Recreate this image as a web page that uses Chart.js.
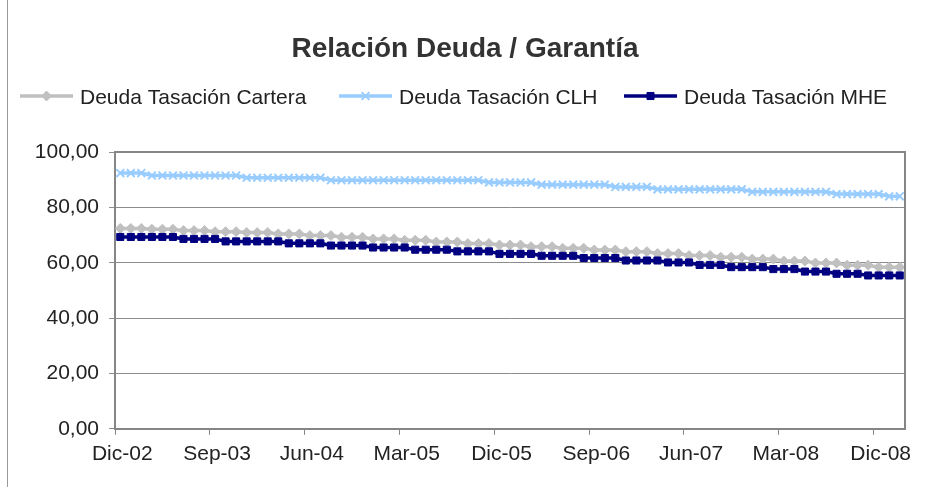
<!DOCTYPE html>
<html>
<head>
<meta charset="utf-8">
<script src="https://cdn.jsdelivr.net/npm/chart.js@4.4.0/dist/chart.umd.min.js"></script>
<style>
  html, body { margin: 0; padding: 0; background: #fff; }
</style>
</head>
<body>
<canvas id="myChart" width="931" height="487"></canvas>
<script>
const titleText = 'Relación Deuda / Garantía';
const monthNames = ['Ene', 'Feb', 'Mar', 'Abr', 'May', 'Jun', 'Jul', 'Ago', 'Sep', 'Oct', 'Nov', 'Dic'];

// Dic-02 .. Feb-09, one category per month
const categories = [];
for (let i = 0; i < 75; i++) {
   const m = (11 + i) % 12;
   const yy = 2 + Math.floor((11 + i) / 12);
   categories.push(monthNames[m] + '-' + String(yy).padStart(2, '0'));
}
const labelEvery = 9;

const seriesNames = ['Deuda Tasación Cartera', 'Deuda Tasación CLH', 'Deuda Tasación MHE'];

const cartera = [
   72.4,
   72.4, 72.4, 72.1, 72.1, 72.1, 71.6, 71.6, 71.6, 71.2, 71.2, 71.2, 70.9,
   70.9, 70.9, 70.4, 70.4, 70.4, 69.8, 69.8, 69.8, 69.2, 69.2, 69.2, 68.6,
   68.6, 68.6, 68.1, 68.1, 68.1, 67.5, 67.5, 67.5, 66.9, 66.9, 66.9, 66.4,
   66.4, 66.4, 65.8, 65.8, 65.8, 65.2, 65.2, 65.2, 64.6, 64.6, 64.6, 64.0,
   64.0, 64.0, 63.3, 63.3, 63.3, 62.6, 62.6, 62.6, 62.0, 62.0, 62.0, 61.3,
   61.3, 61.3, 60.6, 60.6, 60.6, 59.9, 59.9, 59.9, 59.1, 59.1, 59.1, 58.4,
   58.4, 58.4
];

const clh = [
   92.4,
   92.4, 92.4, 91.5, 91.5, 91.5, 91.5, 91.5, 91.5, 91.5, 91.5, 91.5, 90.7,
   90.7, 90.7, 90.7, 90.7, 90.7, 90.7, 90.7, 89.8, 89.8, 89.8, 89.8, 89.8,
   89.8, 89.8, 89.8, 89.8, 89.8, 89.8, 89.8, 89.8, 89.8, 89.8, 89.0, 89.0,
   89.0, 89.0, 89.0, 88.2, 88.2, 88.2, 88.2, 88.2, 88.2, 88.2, 87.4, 87.4,
   87.4, 87.4, 86.5, 86.5, 86.5, 86.5, 86.5, 86.5, 86.5, 86.5, 86.5, 85.6,
   85.6, 85.6, 85.6, 85.6, 85.6, 85.6, 85.6, 84.8, 84.8, 84.8, 84.8, 84.8,
   84.0, 84.0
];

const mhe = [
   69.3,
   69.3, 69.3, 69.3, 69.3, 69.3, 68.6, 68.6, 68.6, 68.6, 67.7, 67.7, 67.7,
   67.7, 67.7, 67.7, 67.0, 67.0, 67.0, 67.0, 66.2, 66.2, 66.2, 66.2, 65.5,
   65.5, 65.5, 65.5, 64.7, 64.7, 64.7, 64.7, 64.1, 64.1, 64.1, 64.1, 63.2,
   63.2, 63.2, 63.2, 62.5, 62.5, 62.5, 62.5, 61.7, 61.7, 61.7, 61.7, 60.8,
   60.8, 60.8, 60.8, 60.1, 60.1, 60.1, 59.2, 59.2, 59.2, 58.4, 58.4, 58.4,
   58.4, 57.7, 57.7, 57.7, 56.8, 56.8, 56.8, 56.0, 56.0, 56.0, 55.4, 55.4,
   55.4, 55.4
];

const yTicks = [0, 20, 40, 60, 80, 100];

const fontFamily = '"Liberation Sans", Arial, sans-serif';
const textColor = '#222';
const axisGray = '#868686';

Chart.defaults.font.family = fontFamily;

const styles = [
   { color: '#C0C0C0', pointStyle: 'rectRot', radius: 5, fill: true },
   { color: '#99CCFF', pointStyle: 'crossRot', radius: 5.5, fill: false },
   { color: '#000080', pointStyle: 'rect', radius: 5, fill: true }
];

function makeDataset(i, values) {
   const s = styles[i];
   return {
      label: seriesNames[i],
      data: values,
      borderColor: s.color,
      backgroundColor: s.color,
      borderWidth: 3.5,
      pointStyle: s.pointStyle,
      pointRadius: s.radius,
      pointBorderWidth: s.fill ? 1 : 2,
      pointBorderColor: s.color,
      pointBackgroundColor: s.fill ? s.color : 'rgba(0,0,0,0)',
      tension: 0,
      order: 2 - i
   };
}

// title, legend and plot frame drawn like the Excel original
const excelFrame = {
   id: 'excelFrame',
   afterDraw(chart) {
      const ctx = chart.ctx;
      const a = chart.chartArea;
      ctx.save();

      ctx.strokeStyle = axisGray;
      ctx.lineWidth = 2;
      ctx.beginPath();
      ctx.moveTo(a.left, a.top);
      ctx.lineTo(a.right, a.top);
      ctx.lineTo(a.right, a.bottom);
      ctx.stroke();

      ctx.strokeStyle = '#9a9a9a';
      ctx.lineWidth = 1;
      ctx.beginPath();
      ctx.moveTo(7.5, 0);
      ctx.lineTo(7.5, chart.height);
      ctx.stroke();

      ctx.fillStyle = '#333';
      ctx.font = 'bold 28px ' + fontFamily;
      ctx.textAlign = 'center';
      ctx.textBaseline = 'alphabetic';
      ctx.fillText(titleText, 465, 57);

      const legendX = [20, 339, 624];
      const legendY = 96;
      ctx.font = '21px ' + fontFamily;
      ctx.textAlign = 'left';
      for (let i = 0; i < seriesNames.length; i++) {
         const s = styles[i];
         const x0 = legendX[i];
         ctx.strokeStyle = s.color;
         ctx.lineWidth = 3.5;
         ctx.beginPath();
         ctx.moveTo(x0, legendY);
         ctx.lineTo(x0 + 53, legendY);
         ctx.stroke();
         ctx.fillStyle = s.fill ? s.color : 'rgba(0,0,0,0)';
         ctx.lineWidth = s.fill ? 1 : 2;
         Chart.helpers.drawPoint(ctx, { pointStyle: s.pointStyle, radius: s.radius, rotation: 0, borderWidth: ctx.lineWidth }, x0 + 26.5, legendY);
         ctx.fillStyle = textColor;
         ctx.fillText(seriesNames[i], x0 + 60, legendY + 8);
      }
      ctx.restore();
   }
};

const ctx = document.getElementById('myChart');

const myChart = new Chart(ctx, {
   type: 'line',
   data: {
      labels: categories,
      datasets: [makeDataset(0, cartera), makeDataset(1, clh), makeDataset(2, mhe)]
   },
   options: {
      responsive: false,
      animation: false,
      events: [],
      layout: { padding: { top: 152, right: 26, bottom: 13, left: 0 } },
      plugins: {
         legend: { display: false },
         title: { display: false },
         tooltip: { enabled: false }
      },
      scales: {
         x: {
            offset: true,
            grid: {
               offset: true,
               drawOnChartArea: false,
               drawTicks: true,
               tickLength: 6,
               lineWidth: 1,
               color: c => (c.index % labelEvery === 0 ? axisGray : 'rgba(0,0,0,0)')
            },
            border: { color: axisGray, width: 2 },
            ticks: {
               autoSkip: false,
               maxRotation: 0,
               minRotation: 0,
               padding: 7,
               labelOffset: 2,
               color: textColor,
               font: { size: 21 },
               callback: (v, i) => (i % labelEvery === 0 ? categories[i] : '')
            }
         },
         y: {
            min: yTicks[0],
            max: yTicks[yTicks.length - 1],
            afterBuildTicks: scale => { scale.ticks = yTicks.map(v => ({ value: v })); },
            grid: { color: '#8c8c8c', lineWidth: 1, tickLength: 6 },
            border: { color: axisGray, width: 2 },
            ticks: {
               padding: 10,
               color: textColor,
               font: { size: 21 },
               callback: v => v.toFixed(2).replace('.', ',')
            },
            afterFit: scale => { scale.width = 115; }
         }
      }
   },
   plugins: [excelFrame]
});
</script>
</body>
</html>
